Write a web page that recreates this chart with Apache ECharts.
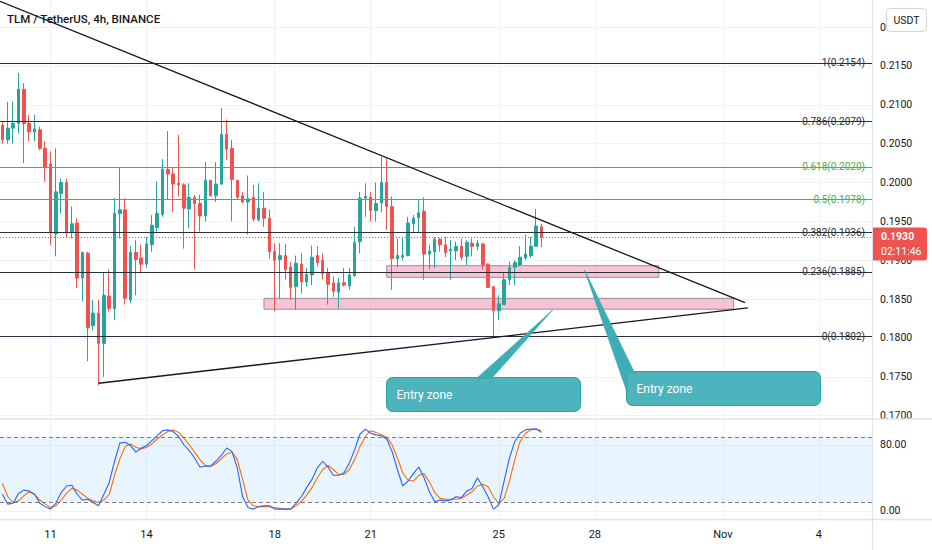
<!DOCTYPE html>
<html><head><meta charset="utf-8">
<script src="https://cdn.jsdelivr.net/npm/echarts@6/dist/echarts.min.js"></script>
<style>html,body{margin:0;padding:0;background:#fff}#c{width:932px;height:550px}</style>
</head><body><div id="c"></div>
<script>
// ---------------- data ----------------
const chartTitle = 'TLM / TetherUS, 4h, BINANCE';
const quoteCurrency = 'USDT';
const firstCandle = '2021-10-09T12:00:00Z';
const candleHours = 4;

const opens  = [.2074,.2055,.2070,.2076,.2120,.2076,.2065,.2068,.2044,.2024,.1934,.1986,.2000,.1937,.1948,.1877,.1909,.1816,.1832,.1793,
                .1854,.1838,.1960,.1965,.1849,.1910,.1903,.1895,.1920,.1942,.1959,.2017,.2011,.1999,.1997,.1966,.1981,.1973,.1957,.2003,
                .1983,.1998,.2062,.2044,.2003,.1983,.1975,.1981,.1952,.1967,.1954,.1911,.1901,.1906,.1891,.1866,.1895,.1872,.1881,.1906,
                .1900,.1884,.1871,.1859,.1871,.1867,.1880,.1924,.1980,.1981,.1964,.1974,.2000,.1969,.1902,.1904,.1906,.1947,.1955,.1963,
                .1908,.1911,.1927,.1920,.1912,.1912,.1918,.1905,.1922,.1918,.1921,.1895,.1866,.1835,.1843,.1875,.1891,.1894,.1903,.1906,
                .1918,.1943];
const closes = [.2055,.2070,.2076,.2120,.2076,.2065,.2069,.2044,.2020,.1935,.1988,.2000,.1935,.1947,.1877,.1910,.1813,.1832,.1793,.1855,
                .1838,.1960,.1965,.1851,.1910,.1901,.1895,.1921,.1945,.1960,.2017,.2011,.1998,.1997,.1967,.1981,.1973,.1957,.2003,.1983,
                .1998,.2062,.2043,.2004,.1981,.1975,.1979,.1953,.1967,.1954,.1911,.1900,.1906,.1888,.1865,.1896,.1872,.1882,.1904,.1897,
                .1883,.1869,.1860,.1871,.1868,.1881,.1923,.1980,.1982,.1964,.1973,.2000,.1969,.1902,.1906,.1906,.1948,.1954,.1961,.1908,
                .1912,.1927,.1920,.1910,.1914,.1918,.1904,.1923,.1918,.1922,.1894,.1865,.1835,.1844,.1875,.1891,.1897,.1904,.1908,.1918,
                .1944,.1930];
const lows   = [.2050,.2050,.2050,.2063,.2025,.2053,.2053,.2042,.2001,.1920,.1905,.1960,.1930,.1928,.1864,.1847,.1770,.1810,.1739,.1750,
                .1834,.1823,.1928,.1843,.1845,.1855,.1883,.1890,.1911,.1937,.1956,.1978,.1962,.1982,.1915,.1941,.1888,.1937,.1950,.1982,
                .1975,.1997,.2029,.1950,.1978,.1973,.1933,.1950,.1950,.1943,.1902,.1834,.1851,.1875,.1849,.1836,.1857,.1866,.1868,.1892,
                .1875,.1843,.1853,.1838,.1866,.1862,.1879,.1909,.1956,.1950,.1950,.1962,.1939,.1862,.1891,.1900,.1905,.1935,.1935,.1875,
                .1888,.1890,.1911,.1904,.1875,.1900,.1900,.1894,.1905,.1913,.1888,.1865,.1802,.1823,.1843,.1868,.1868,.1892,.1900,.1903,
                .1917,.1917];
const highs  = [.2078,.2104,.2104,.2141,.2128,.2087,.2087,.2072,.2053,.2040,.2044,.2005,.2005,.1969,.1954,.1911,.1911,.1849,.1849,.1885,
                .1888,.1980,.2020,.1980,.1918,.1926,.1920,.1930,.1958,.2001,.2030,.2066,.2019,.2061,.1999,.1999,.1984,.1984,.2026,.2003,
                .2026,.2096,.2081,.2055,.2003,.1988,.2009,.1997,.1999,.1988,.1965,.1922,.1922,.1921,.1898,.1906,.1909,.1890,.1919,.1918,
                .1909,.1890,.1879,.1877,.1890,.1890,.1943,.1988,.1999,.1988,.2000,.2033,.2031,.1982,.1928,.1930,.1956,.1958,.1978,.1981,
                .1920,.1930,.1929,.1930,.1926,.1924,.1928,.1926,.1928,.1926,.1922,.1896,.1866,.1855,.1885,.1898,.1900,.1918,.1933,.1930,
                .1966,.1947];

const stochK = [20,8,9,21,25,24,20,9,5,2,9,22,30,31,20,13,14,10,6,20,
                34,60,82,83,79,71,76,79,85,91,97,98,96,90,80,73,64,53,54,54,
                60,67,76,72,52,17,4,2,5,6,6,2,2,2,2,9,17,28,38,52,
                60,53,43,43,46,58,74,93,99,94,92,91,87,72,50,30,36,45,53,40,
                23,11,13,12,13,17,16,24,27,40,29,17,2,7,36,64,84,94,98,99,
                99,95];
const stochD = [33,17,10,12,18,23,20,13,8,4,6,13,21,27,25,20,15,12,10,13,
                20,43,63,78,81,77,75,77,81,87,92,96,98,95,88,80,71,62,55,54,
                57,63,69,71,62,38,13,6,5,5,5,4,3,2,2,6,11,19,28,40,
                50,55,50,44,44,50,62,78,90,97,95,92,89,80,64,46,37,36,43,45,
                35,22,15,14,14,14,15,19,23,30,32,29,17,9,15,36,62,84,94,98,
                99,97];

const priceTicks = [0.170,0.175,0.180,0.185,0.190,0.195,0.200,0.205,0.210,0.215,0.220];
const dateTicks  = ['2021-10-11','2021-10-14','2021-10-18','2021-10-21','2021-10-25','2021-10-28','2021-11-01','2021-11-04'];
const dateLabels = ['11','14','18','21','25','28','Nov','4'];
const stochTicks = [0, 80];
const stochBands = [10.5, 88.9];

const fibLevels = ['1','0.786','0.618','0.5','0.382','0.236','0'];
const fibPrices = [0.2154,0.2079,0.2020,0.1978,0.1936,0.1885,0.1802];

const lastPrice = 0.1930;
const countdown = '02:11:46';

const trendDown = [['2021-10-09T10:10:00Z', 0.22333], ['2021-11-01T16:33:00Z', 0.18454]];
const trendUp   = [['2021-10-12T12:00:00Z', 0.17417], ['2021-11-01T18:43:00Z', 0.18386]];

const zoneUpper = [['2021-10-21T12:00:00Z', 0.1893], ['2021-10-30T00:00:00Z', 0.1878]];
const zoneLower = [['2021-10-17T16:00:00Z', 0.1851], ['2021-11-01T08:00:00Z', 0.1837]];

const calloutTexts = ['Entry zone', 'Entry zone'];
const calloutTips  = [['2021-10-26T16:25:00Z', 0.1836], ['2021-10-27T16:15:00Z', 0.18875]];
const calloutBoxes = [['2021-10-21T11:28:00Z', 0.1750], ['2021-10-28T23:23:00Z', 0.17575]];

const xRange = ['2021-10-09T10:09:00Z', '2021-11-05T15:45:00Z'];
const priceRange = [0.16970, 0.22349];
const stochRange = [-10, 110];

// ---------------- styles ----------------
const UP = '#26a69a', DOWN = '#ef5350', TXT = '#131722', GRIDC = '#f0f3fa', SEP = '#e0e3eb';
const FIB_GREEN = new Set(['0.618','0.5']);
const fibColor = l => FIB_GREEN.has(l) ? '#4caf50' : '#2a2e39';
const FONT = 'Roboto, "Open Sans", sans-serif';
const CALLOUT_W = 194, CALLOUT_H = 34;
const calloutBases = [
  [[90, 1], [105, 1]],
  [[8, 1], [1, 1], [1, 22]]
];

// ---------------- build ----------------
const ms = s => Date.parse(s);
const HOUR = 3600e3;
const t0 = ms(firstCandle);
const times = opens.map((_, i) => t0 + i * candleHours * HOUR);
const candleData = times.map((t, i) => [t, opens[i], closes[i], lows[i], highs[i]]);
const kData = times.map((t, i) => [t, stochK[i]]);
const dData = times.map((t, i) => [t, stochD[i]]);
const dateTickMs = dateTicks.map(d => ms(d + 'T00:00:00Z'));
const lineStyleTrend = {color: '#131722', width: 1.3, type: 'solid'};
const seg = (pts, extra) => [Object.assign({coord: [ms(pts[0][0]), pts[0][1]]}, extra || {}), {coord: [ms(pts[1][0]), pts[1][1]]}];
const calloutData = calloutTips.map((tp, i) => [ms(tp[0]), tp[1], ms(calloutBoxes[i][0]), calloutBoxes[i][1]]);

const chart = echarts.init(document.getElementById('c'), null, {renderer: 'svg'});

function xAxisFor(gridIndex, showLabels) {
  return {
    gridIndex, type: 'value', min: ms(xRange[0]), max: ms(xRange[1]),
    axisLine: {show: false},
    axisTick: {show: false, customValues: dateTickMs},
    splitLine: {show: true, lineStyle: {color: GRIDC, width: 1}},
    axisLabel: showLabels ? {show: true, customValues: dateTickMs, color: TXT, fontSize: 11, margin: 10, fontFamily: FONT,
      formatter: v => { const k = dateTickMs.indexOf(v); return k >= 0 ? dateLabels[k] : ''; }} : {show: false}
  };
}

const option = {
  animation: false,
  backgroundColor: '#ffffff',
  textStyle: {fontFamily: FONT},
  grid: [
    {left: 0, top: 0, width: 872, height: 418},
    {left: 0, top: 420, width: 872, height: 99}
  ],
  xAxis: [xAxisFor(0, false), xAxisFor(1, true)],
  yAxis: [
    {gridIndex: 0, type: 'value', position: 'right', min: priceRange[0], max: priceRange[1],
     axisLine: {show: false}, axisTick: {show: false, customValues: priceTicks},
     axisLabel: {customValues: priceTicks, color: TXT, fontSize: 10.5, margin: 8, fontFamily: FONT, formatter: v => v.toFixed(4)},
     splitLine: {show: true, lineStyle: {color: GRIDC}}},
    {gridIndex: 1, type: 'value', position: 'right', min: stochRange[0], max: stochRange[1],
     axisLine: {show: false}, axisTick: {show: false, customValues: stochTicks},
     axisLabel: {customValues: stochTicks, color: TXT, fontSize: 10.5, margin: 8, fontFamily: FONT, formatter: v => v.toFixed(2)},
     splitLine: {show: true, lineStyle: {color: GRIDC}}}
  ],
  series: [
    {
      type: 'candlestick', xAxisIndex: 0, yAxisIndex: 0,
      data: candleData, encode: {x: 0, y: [1, 2, 3, 4]},
      barWidth: 3,
      itemStyle: {color: UP, color0: DOWN, borderColor: UP, borderColor0: DOWN, borderWidth: 1},
      markArea: {
        silent: true,
        itemStyle: {color: 'rgba(233,30,99,0.27)', borderColor: '#8f939e', borderWidth: 1},
        data: [seg(zoneUpper), seg(zoneLower)]
      },
      markLine: {
        silent: true, symbol: ['none', 'none'], animation: false, precision: 5,
        label: {position: 'insideEnd', distance: 7, fontSize: 10, fontFamily: FONT},
        data: [
          ...fibPrices.map((p, i) => ({
            yAxis: p,
            lineStyle: {color: fibColor(fibLevels[i]), width: 1, type: 'solid'},
            label: {show: true, formatter: fibLevels[i] + '(' + p.toFixed(4) + ')', color: fibColor(fibLevels[i])}
          })),
          {yAxis: lastPrice, lineStyle: {color: DOWN, width: 1, type: [1, 2]}, label: {show: false}},
          seg(trendDown, {lineStyle: lineStyleTrend, label: {show: false}}),
          seg(trendUp, {lineStyle: lineStyleTrend, label: {show: false}})
        ]
      }
    },
    {
      type: 'custom', xAxisIndex: 0, yAxisIndex: 0, z: 5, silent: true,
      data: calloutData, encode: {x: [0, 2], y: [1, 3]},
      renderItem: (params, api) => {
        const i = params.dataIndex;
        const tip = api.coord([api.value(0), api.value(1)]);
        const box = api.coord([api.value(2), api.value(3)]);
        const bx = Math.round(box[0]) + 0.5, by = Math.round(box[1]) + 0.5;
        const pts = [tip].concat(calloutBases[i].map(b => [bx + b[0], by + b[1]]));
        return {type: 'group', children: [
          {type: 'rect', shape: {x: bx, y: by, width: CALLOUT_W, height: CALLOUT_H, r: 6},
           style: {fill: '#4db4bd', stroke: '#26a3ab', lineWidth: 1}},
          {type: 'polygon', shape: {points: pts}, style: {fill: '#3eaeb6', stroke: '#2aa6ae', lineWidth: 0.6}},
          {type: 'text', style: {x: bx + 10, y: by + CALLOUT_H / 2, text: calloutTexts[i], fill: '#ffffff',
            font: '12px ' + FONT, verticalAlign: 'middle', align: 'left'}}
        ]};
      }
    },
    {
      type: 'line', xAxisIndex: 1, yAxisIndex: 1, data: kData, showSymbol: false, z: 4,
      lineStyle: {color: '#2962ff', width: 1.1},
      markArea: {silent: true, itemStyle: {color: 'rgba(33,150,243,0.10)'},
        data: [[{yAxis: stochBands[0]}, {yAxis: stochBands[1]}]]},
      markLine: {silent: true, symbol: ['none', 'none'], label: {show: false}, precision: 2,
        lineStyle: {color: '#787b86', type: [4, 3], width: 1},
        data: [{yAxis: stochBands[0]}, {yAxis: stochBands[1]}]}
    },
    {
      type: 'line', xAxisIndex: 1, yAxisIndex: 1, data: dData, showSymbol: false, z: 3,
      lineStyle: {color: '#ff6d00', width: 1.1}
    }
  ]
};
chart.setOption(option);

function staticGraphics() {
  const py = chart.convertToPixel({gridIndex: 0}, [times[times.length - 1], lastPrice])[1];
  return [
    {id: 'cover', type: 'rect', z: 100, shape: {x: 873, y: 419.5, width: 59, height: 10}, style: {fill: '#fff'}},
    {id: 'vsep', type: 'line', z: 101, shape: {x1: 872.5, y1: 0, x2: 872.5, y2: 550}, style: {stroke: SEP, lineWidth: 1}},
    {id: 'hsep1', type: 'line', z: 101, shape: {x1: 0, y1: 419, x2: 932, y2: 419}, style: {stroke: SEP, lineWidth: 1.5}},
    {id: 'hsep2', type: 'line', z: 101, shape: {x1: 0, y1: 519.5, x2: 932, y2: 519.5}, style: {stroke: SEP, lineWidth: 1.5}},
    {id: 'title', type: 'text', z: 101, style: {x: 7, y: 18.5, text: chartTitle, fill: TXT, font: '500 11.5px ' + FONT, verticalAlign: 'middle'}},
    {id: 'badge', type: 'group', z: 101, children: [
      {type: 'rect', z: 101, shape: {x: 886.5, y: 8.5, width: 40, height: 23, r: 4}, style: {fill: '#fff', stroke: '#d1d4dc', lineWidth: 1}},
      {type: 'text', z: 102, style: {x: 906.5, y: 20.5, text: quoteCurrency, fill: TXT, font: '10.5px ' + FONT, align: 'center', verticalAlign: 'middle'}}
    ]},
    {id: 'plabel', type: 'group', z: 101, children: [
      {type: 'rect', z: 101, shape: {x: 873, y: py - 9.5, width: 54, height: 33, r: [0, 3, 3, 0]}, style: {fill: DOWN}},
      {type: 'text', z: 102, style: {x: 881, y: py, text: lastPrice.toFixed(4), fill: '#fff', font: 'bold 10.5px ' + FONT, verticalAlign: 'middle'}},
      {type: 'text', z: 102, style: {x: 881, y: py + 15, text: countdown, fill: '#fff', font: '10.5px ' + FONT, verticalAlign: 'middle'}}
    ]}
  ];
}
chart.setOption({graphic: staticGraphics()});
</script>
</body></html>
